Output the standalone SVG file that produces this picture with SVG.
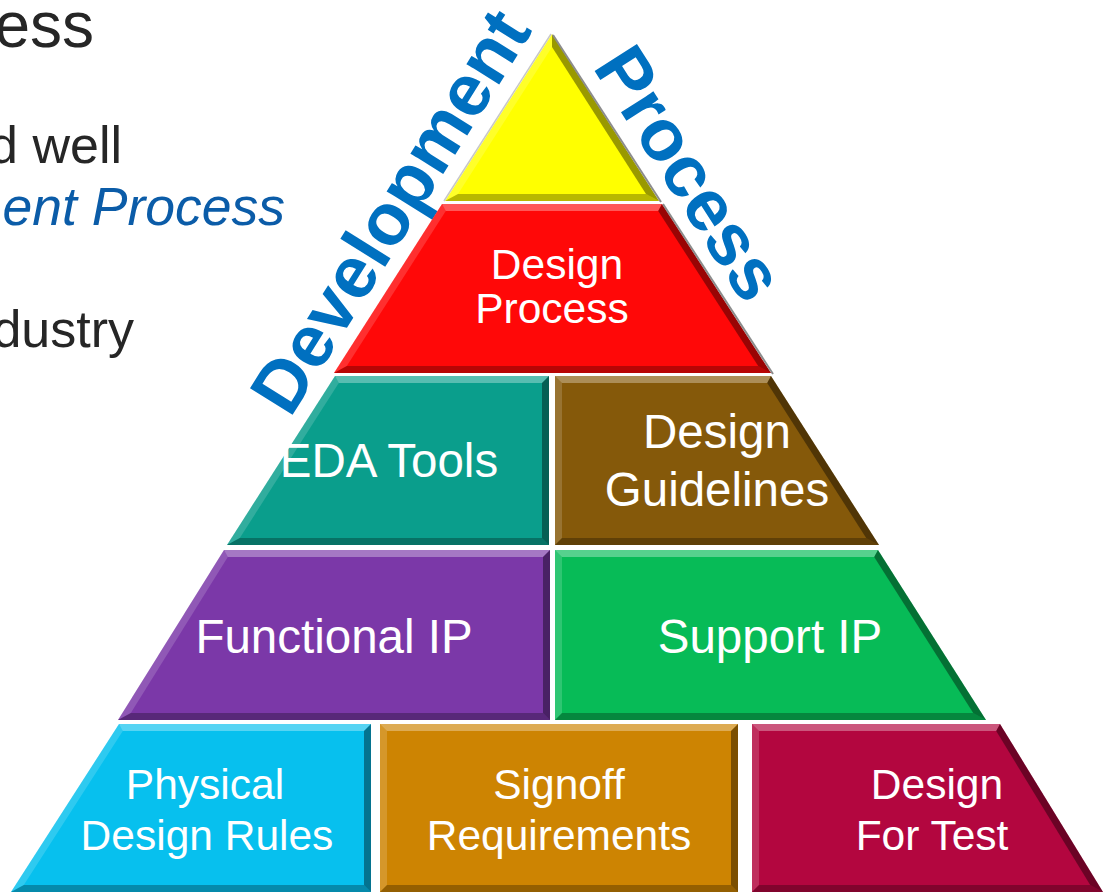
<svg xmlns="http://www.w3.org/2000/svg" width="1103" height="893" viewBox="0 0 1103 893">
<style>
.top{fill:#fff;fill-opacity:.32}
.lft{fill:#fff;fill-opacity:.16}
.bot{fill:#000;fill-opacity:.28}
.rgt{fill:#000;fill-opacity:.4}
.lbl{font-family:"Liberation Sans",Arial,sans-serif;fill:#fff;text-anchor:middle}
.s42{font-size:42.5px}
.s46{font-size:47.5px}
.body{font-family:"Liberation Sans",Arial,sans-serif;fill:#262626;text-anchor:end}
.ital{font-family:"Liberation Sans",Arial,sans-serif;fill:#0B5CA8;font-style:italic;text-anchor:end}
.side{font-family:"Liberation Sans",Arial,sans-serif;font-weight:bold;fill:#0070C0;font-size:73px}
</style>
<rect width="1103" height="893" fill="#fff"/>

<g id="left-text">
<text class="body" x="94" y="47" font-size="64">ess</text>
<text class="body" x="122" y="163" font-size="52">d well</text>
<text class="ital" x="285" y="225" font-size="53.5">ent Process</text>
<text class="body" x="134" y="347" font-size="52">dustry</text>
</g>

<g id="side-labels">
<text class="side" transform="translate(290,419) rotate(-58)">Development</text>
<text class="side" transform="translate(592,67) rotate(57.4)">Process</text>
</g>

<g id="node-top">
<polygon points="552,34 659,201 445,201" fill="#FFFF00"/>
<polygon class="lft" points="552,34 552,47 458,194 445,201" fill-opacity=".25"/>
<polygon class="bot" points="445,201 458,194 646,194 659,201" fill-opacity=".12"/>
<polygon class="rgt" points="552,34 659,201 646,194 552,47" fill-opacity=".12"/>
<line x1="551" y1="34" x2="444" y2="201" stroke="#c8c8c8" stroke-width="1.5"/>
<line x1="553" y1="35" x2="661" y2="202" stroke="#8c8c8c" stroke-width="2"/>
</g>

<g id="node-design-process">
<polygon points="442,204 662,204 771,373 334,373" fill="#FF0808"/>
<polygon class="top" points="442,204 662,204 658.2,211 445.8,211"/>
<polygon class="lft" points="442,204 445.8,211 346.8,366 334,373"/>
<polygon class="bot" points="334,373 346.8,366 758.2,366 771,373"/>
<polygon class="rgt" points="662,204 771,373 758.2,366 658.2,211"/>
<line x1="663" y1="204" x2="773" y2="374" stroke="#8c8c8c" stroke-width="2"/>
<text class="lbl s42" x="557" y="279">Design</text>
<text class="lbl s42" x="552" y="323">Process</text>
</g>

<g id="node-eda-tools">
<polygon points="335,376 549,376 549,545 227,545" fill="#0A9E8C"/>
<polygon class="top" points="335,376 549,376 542,383 338.8,383"/>
<polygon class="lft" points="335,376 338.8,383 239.8,538 227,545"/>
<polygon class="bot" points="227,545 239.8,538 542,538 549,545"/>
<polygon class="rgt" points="549,376 549,545 542,538 542,383"/>
<text class="lbl s46" x="389" y="477">EDA Tools</text>
</g>

<g id="node-design-guidelines">
<polygon points="555,376 771,376 879,545 555,545" fill="#85590A"/>
<polygon class="top" points="555,376 771,376 767.2,383 562,383"/>
<polygon class="lft" points="555,376 562,383 562,538 555,545"/>
<polygon class="bot" points="555,545 562,538 866.2,538 879,545"/>
<polygon class="rgt" points="771,376 879,545 866.2,538 767.2,383"/>
<text class="lbl s46" x="717" y="448">Design</text>
<text class="lbl s46" x="717" y="506">Guidelines</text>
</g>

<g id="node-functional-ip">
<polygon points="224,550 550,550 550,720 118,720" fill="#7B38A8"/>
<polygon class="top" points="224,550 550,550 543,557 227.8,557"/>
<polygon class="lft" points="224,550 227.8,557 130.8,713 118,720"/>
<polygon class="bot" points="118,720 130.8,713 543,713 550,720"/>
<polygon class="rgt" points="550,550 550,720 543,713 543,557"/>
<text class="lbl s46" x="334" y="653">Functional IP</text>
</g>

<g id="node-support-ip">
<polygon points="555,550 878,550 986,720 555,720" fill="#07BB57"/>
<polygon class="top" points="555,550 878,550 874.2,557 562,557"/>
<polygon class="lft" points="555,550 562,557 562,713 555,720"/>
<polygon class="bot" points="555,720 562,713 973.2,713 986,720"/>
<polygon class="rgt" points="878,550 986,720 973.2,713 874.2,557"/>
<text class="lbl s46" x="770" y="653">Support IP</text>
</g>

<g id="node-physical-design-rules">
<polygon points="119,724 371,724 371,892 11,892" fill="#07C0EE"/>
<polygon class="top" points="119,724 371,724 364,731 122.8,731"/>
<polygon class="lft" points="119,724 122.8,731 23.8,885 11,892"/>
<polygon class="bot" points="11,892 23.8,885 364,885 371,892"/>
<polygon class="rgt" points="371,724 371,892 364,885 364,731"/>
<text class="lbl s42" x="205" y="799">Physical</text>
<text class="lbl s42" x="207" y="850">Design Rules</text>
</g>

<g id="node-signoff-requirements">
<polygon points="380,724 738,724 738,892 380,892" fill="#CD8402"/>
<polygon class="top" points="380,724 738,724 731,731 387,731"/>
<polygon class="lft" points="380,724 387,731 387,885 380,892"/>
<polygon class="bot" points="380,892 387,885 731,885 738,892"/>
<polygon class="rgt" points="738,724 738,892 731,885 731,731"/>
<text class="lbl s42" x="559" y="799">Signoff</text>
<text class="lbl s42" x="559" y="850">Requirements</text>
</g>

<g id="node-design-for-test">
<polygon points="752,724 1000,724 1103,892 752,892" fill="#B3063F"/>
<polygon class="top" points="752,724 1000,724 996.2,731 759,731"/>
<polygon class="lft" points="752,724 759,731 759,885 752,892"/>
<polygon class="bot" points="752,892 759,885 1090.2,885 1103,892"/>
<polygon class="rgt" points="1000,724 1103,892 1090.2,885 996.2,731"/>
<text class="lbl s42" x="937" y="799">Design</text>
<text class="lbl s42" x="932" y="850">For Test</text>
</g>

<g id="connectors"/>
</svg>
